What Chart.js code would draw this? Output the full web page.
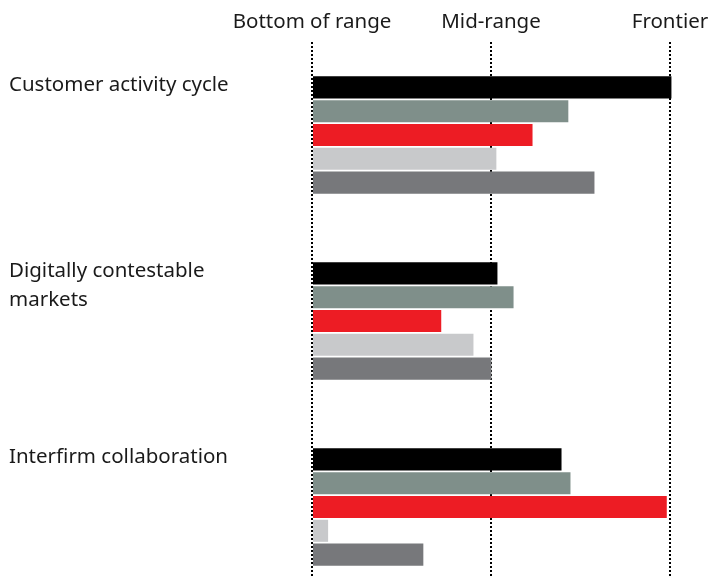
<!DOCTYPE html>
<html>
<head>
<meta charset="utf-8">
<script src="https://cdn.jsdelivr.net/npm/chart.js@4"></script>
<style>
  html, body { margin: 0; padding: 0; background: #fff; overflow: hidden; }
  #wrap { width: 712px; height: 576px; overflow: hidden; }
</style>
</head>
<body>
<div id="wrap"><canvas id="gauge" width="712" height="624"></canvas></div>
<script>
// Category labels (second line left blank so every label starts at the same height)
const categories = [
  ['Customer activity cycle', ''],
  ['Digitally contestable', 'markets'],
  ['Interfirm collaboration', '']
];

// Positions along the range, 0 = bottom, 50 = mid, 100 = frontier
const seriesBlack = [100.4, 51.8, 69.7];
const seriesSage = [71.6, 56.3, 72.2];
const seriesRed = [61.6, 36.1, 99.1];
const seriesLight = [51.5, 45.1, 4.5];
const seriesDark = [78.9, 50.1, 31.1];

const rangeTicks = [0, 50, 100];
const rangeNames = ['Bottom of range', 'Mid-range', 'Frontier'];

const font = "'Noto Sans', sans-serif";

function bar(label, data, color) {
  return {
    label: label,
    data: data,
    backgroundColor: color,
    borderWidth: 0,
    categoryPercentage: 0.64,
    barPercentage: 0.925,
    clip: false
  };
}

const ctx = document.getElementById('gauge');

new Chart(ctx, {
  type: 'bar',
  data: {
    labels: categories,
    datasets: [
      bar('A', seriesBlack, '#000000'),
      bar('B', seriesSage, '#7f8f8a'),
      bar('C', seriesRed, '#ed1c24'),
      bar('D', seriesLight, '#c8c9cb'),
      bar('E', seriesDark, '#77787b')
    ]
  },
  options: {
    indexAxis: 'y',
    responsive: false,
    animation: false,
    layout: {
      padding: { left: 9, right: 42, top: 0, bottom: 24 }
    },
    plugins: {
      legend: { display: false },
      tooltip: { enabled: false }
    },
    scales: {
      x: {
        position: 'top',
        min: 0,
        max: 100,
        z: 1,
        afterBuildTicks: (scale) => {
          scale.ticks = rangeTicks.map(v => ({ value: v }));
        },
        afterFit: (scale) => {
          scale.height = 42;
          scale.paddingLeft = 0;
          scale.paddingRight = 0;
        },
        ticks: {
          padding: 8,
          color: '#1a1a1a',
          font: { family: font, size: 20.5 },
          callback: (value) => rangeNames[rangeTicks.indexOf(value)]
        },
        grid: {
          color: '#000000',
          lineWidth: 2,
          drawTicks: false
        },
        border: { display: false, dash: [2, 2] }
      },
      y: {
        afterFit: (scale) => {
          scale.width = 303;
          scale.paddingTop = 0;
          scale.paddingBottom = 0;
        },
        ticks: {
          crossAlign: 'far',
          labelOffset: -35,
          color: '#1a1a1a',
          font: { family: font, size: 20.5, lineHeight: 1.41 }
        },
        grid: { display: false },
        border: { display: false }
      }
    }
  }
});
</script>
</body>
</html>
